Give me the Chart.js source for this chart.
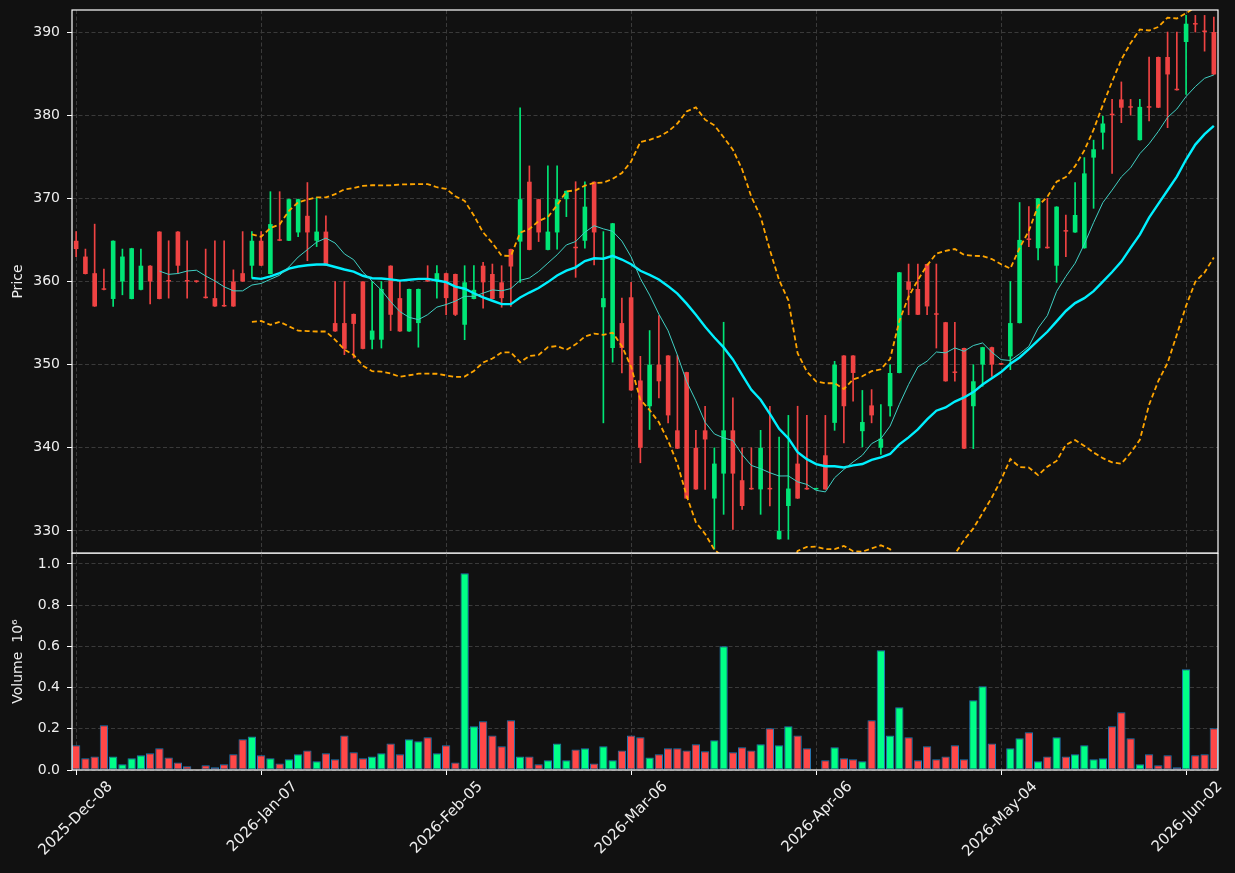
<!DOCTYPE html>
<html>
<head>
<meta charset="utf-8">
<script src="https://cdn.jsdelivr.net/npm/chart.js"></script>
<style>
  html, body { margin: 0; padding: 0; background: #111111; }
  #wrap { position: relative; width: 1235px; height: 873px; overflow: hidden; }
  canvas { position: absolute; left: 0; }
  #priceChart { top: 0; }
  #volChart { top: 553px; }
</style>
</head>
<body>
<div id="wrap">
  <canvas id="priceChart" width="1235" height="554"></canvas>
  <canvas id="volChart" width="1235" height="320"></canvas>
</div>
<script>
// daily candles (124 sessions)
const opens = [364.9,363.0,361.0,359.1,357.9,360.0,357.9,359.0,361.9,366.0,
  360.1,366.0,360.1,360.05,358.1,358.0,357.1,360.0,361.0,361.9,
  364.9,360.9,365.0,364.9,365.9,367.9,364.9,366.0,355.0,355.0,
  356.1,360.0,353.0,353.0,361.9,358.0,354.0,355.0,360.1,360.0,
  361.0,360.9,354.8,357.9,361.9,360.9,359.9,363.9,364.8,372.0,
  369.9,363.8,365.9,369.9,364.1,364.9,372.0,356.9,352.0,355.0,
  358.1,348.1,345.0,350.0,351.1,342.1,349.1,340.0,342.1,333.9,
  336.9,342.1,336.1,335.1,335.0,335.1,329.0,333.0,338.1,335.1,
  335.0,339.1,343.0,351.1,351.1,342.0,345.1,340.0,345.0,349.0,
  360.0,359.1,362.1,356.1,355.1,349.1,352.0,345.0,350.0,352.1,
  350.1,351.0,355.0,365.1,364.0,364.1,361.9,366.1,365.9,364.0,
  374.9,377.9,380.1,381.9,381.0,377.0,381.0,387.0,387.0,383.1,
  388.8,391.0,390.1,390.0];
const highs = [366.0,363.9,366.9,361.5,364.9,363.9,364.0,363.9,361.9,366.0,
  364.9,366.0,364.9,360.1,363.9,364.9,364.9,361.4,366.0,366.0,
  366.0,370.8,370.8,369.9,369.9,371.9,370.1,367.9,360.0,360.0,
  356.1,360.0,360.0,360.0,361.9,360.0,359.1,359.1,361.9,361.9,
  361.0,360.9,361.9,361.9,362.3,362.1,361.9,363.9,380.9,373.9,
  369.9,373.9,373.9,370.9,372.0,372.0,372.0,366.0,367.0,358.0,
  359.9,351.0,354.1,355.9,351.1,351.1,349.1,342.1,345.0,340.0,
  355.1,346.0,340.0,340.0,342.1,345.0,341.3,343.9,345.0,343.9,
  335.0,343.9,350.4,351.1,351.1,346.9,347.0,345.2,350.0,361.1,
  362.1,362.1,362.1,362.1,355.1,355.1,352.0,350.0,352.1,352.1,
  350.1,360.0,369.5,369.0,370.0,370.0,369.0,368.0,371.9,374.9,
  377.0,379.9,381.9,384.0,381.9,381.9,387.0,387.0,390.0,390.0,
  392.0,392.0,392.0,391.8];
const lows = [363.0,360.9,357.0,359.0,357.0,358.4,357.9,359.0,357.3,357.9,
  358.0,361.0,358.0,359.9,358.0,357.0,357.0,357.0,360.0,360.4,
  361.9,360.9,364.9,364.9,365.4,362.5,364.2,361.9,354.0,351.2,
  350.8,351.9,351.9,352.0,354.1,354.0,354.0,352.1,360.0,358.0,
  356.0,355.9,353.0,357.9,356.8,357.9,356.9,357.0,359.9,363.8,
  364.8,363.8,363.9,367.8,360.5,364.0,362.0,343.0,350.3,349.0,
  346.9,338.2,342.2,346.0,343.0,339.9,333.9,335.0,335.0,327.8,
  332.0,330.2,332.6,335.0,332.0,333.0,329.0,329.0,333.9,335.0,
  335.0,335.0,342.1,340.6,345.6,340.1,343.0,339.2,343.8,349.0,
  356.0,356.0,356.0,352.0,348.0,348.0,339.9,339.9,347.4,348.6,
  350.0,349.4,355.0,364.2,362.6,364.0,359.9,363.0,365.9,364.0,
  368.8,375.9,373.0,379.1,380.0,377.0,379.3,380.9,378.5,383.0,
  382.5,390.0,387.7,384.9];
const closes = [363.9,360.9,357.0,359.0,364.9,363.0,364.0,361.9,360.0,357.9,
  360.0,361.9,360.0,359.95,358.0,357.0,357.0,357.0,360.0,364.9,
  361.9,366.9,364.9,369.9,369.9,365.9,366.0,361.9,354.0,351.9,
  354.9,351.9,354.1,359.1,356.0,354.0,359.1,359.1,360.0,361.0,
  358.0,356.0,359.9,359.0,359.9,357.9,358.0,361.8,369.9,363.8,
  365.9,366.0,369.9,370.9,364.0,369.0,365.9,358.0,367.0,352.0,
  346.9,340.0,350.0,348.0,343.9,339.9,333.9,335.0,341.0,338.1,
  342.1,336.9,333.0,335.0,340.0,335.0,330.0,335.1,333.9,335.0,
  335.0,335.0,350.0,345.0,349.0,343.1,343.9,341.1,349.0,361.1,
  359.0,356.0,357.0,356.0,348.0,349.0,339.9,348.0,352.1,350.0,
  350.0,355.0,365.0,365.0,370.0,364.0,369.0,366.0,368.0,373.0,
  375.9,379.0,380.0,380.9,380.9,381.0,380.9,380.9,384.9,383.0,
  391.0,390.9,390.0,384.9];
// volume, millions
const volumes = [0.12,0.057,0.066,0.217,0.066,0.028,0.057,0.071,0.081,0.105,
  0.061,0.037,0.018,0.003,0.023,0.013,0.028,0.076,0.149,0.163,
  0.071,0.057,0.032,0.052,0.076,0.095,0.042,0.081,0.052,0.168,
  0.086,0.057,0.066,0.081,0.129,0.076,0.149,0.139,0.159,0.081,
  0.12,0.037,0.955,0.212,0.236,0.168,0.115,0.241,0.066,0.066,
  0.028,0.047,0.129,0.047,0.1,0.105,0.032,0.115,0.047,0.095,
  0.168,0.159,0.061,0.076,0.105,0.105,0.095,0.125,0.091,0.144,
  0.6,0.086,0.11,0.095,0.125,0.202,0.12,0.212,0.168,0.105,
  0,0.047,0.11,0.057,0.052,0.042,0.241,0.581,0.168,0.304,
  0.159,0.047,0.115,0.052,0.066,0.12,0.052,0.338,0.406,0.129,
  0,0.105,0.154,0.183,0.042,0.066,0.159,0.066,0.076,0.12,
  0.052,0.057,0.212,0.28,0.154,0.028,0.076,0.023,0.071,0.013,
  0.489,0.071,0.076,0.202];

const tickIdx = [0, 20, 40, 60, 80, 100, 120];
const tickLabels = ["2025-Dec-08", "2026-Jan-07", "2026-Feb-05", "2026-Mar-06",
  "2026-Apr-06", "2026-May-04", "2026-Jun-02"];
const priceTicks = [330, 340, 350, 360, 370, 380, 390];
const volTicks = [0, 0.2, 0.4, 0.6, 0.8, 1.0];

const UP = '#00e676', DOWN = '#ef4343';
const VUP = '#00ff88', VDOWN = '#ff4848';
const GRID = '#3a3a3a';
const TXT = '#eeeeee';
const FONT = { family: 'DejaVu Sans', size: 14 };

// indicators derived from the closes
function rollingMean(vals, n) {
  return vals.map((v, i) => {
    if (i < n - 1) return null;
    let s = 0;
    for (let k = i - n + 1; k <= i; k++) s += vals[k];
    return s / n;
  });
}
function rollingStd(vals, n) {
  const m = rollingMean(vals, n);
  return vals.map((v, i) => {
    if (i < n - 1) return null;
    let s = 0;
    for (let k = i - n + 1; k <= i; k++) s += (vals[k] - m[i]) ** 2;
    return Math.sqrt(s / n);
  });
}
const ma10 = rollingMean(closes, 10);
const ma20 = rollingMean(closes, 20);
const sd20 = rollingStd(closes, 20);
const upper = ma20.map((m, i) => m === null ? null : m + 2 * sd20[i]);
const lower = ma20.map((m, i) => m === null ? null : m - 2 * sd20[i]);

const isUp = closes.map((c, i) => c >= opens[i]);
const candleColors = isUp.map(u => u ? UP : DOWN);
const volColors = isUp.map(u => u ? VUP : VDOWN);
const pts = arr => arr.map((v, i) => ({ x: i, y: v }));

const xMin = -0.45, xMax = 123.45;

const frame = {
  id: 'frame',
  afterDraw(chart) {
    const { ctx, chartArea: a } = chart;
    ctx.save();
    ctx.strokeStyle = '#ffffff';
    ctx.lineWidth = 1.2;
    ctx.strokeRect(a.left, a.top, a.right - a.left, a.bottom - a.top);
    ctx.restore();
  }
};

Chart.defaults.font.family = FONT.family;
Chart.defaults.font.size = FONT.size;
Chart.defaults.color = TXT;

const setTicks = list => s => { s.ticks = list.map(v => ({ value: v })); };
// fixed box sizes, and no extra room asked for the end labels
const fixBox = (w, h) => s => {
  if (w !== null) s.width = w;
  if (h !== null) s.height = h;
  s.paddingTop = 0; s.paddingBottom = 0; s.paddingLeft = 0; s.paddingRight = 0;
};

new Chart(document.getElementById('priceChart'), {
  type: 'bar',
  data: {
    datasets: [
      { type: 'line', data: pts(ma10), borderColor: '#40d0c4', borderWidth: 1,
        pointRadius: 0, tension: 0, order: 0 },
      { type: 'line', data: pts(ma20), borderColor: '#00f0ff', borderWidth: 2.4,
        pointRadius: 0, tension: 0, order: 0 },
      { type: 'line', data: pts(upper), borderColor: '#ffa500', borderWidth: 1.8,
        borderDash: [5, 3], pointRadius: 0, tension: 0, order: 0 },
      { type: 'line', data: pts(lower), borderColor: '#ffa500', borderWidth: 1.8,
        borderDash: [5, 3], pointRadius: 0, tension: 0, order: 0 },
      { data: closes.map((c, i) => ({ x: i, y: [opens[i], c] })),
        backgroundColor: candleColors, barPercentage: 0.5, categoryPercentage: 1,
        grouped: false, minBarLength: 1.5, order: 1 },
      { data: closes.map((c, i) => ({ x: i, y: [lows[i], highs[i]] })),
        backgroundColor: candleColors, barThickness: 1,
        grouped: false, order: 2 }
    ]
  },
  options: {
    responsive: false,
    animation: false,
    events: [],
    layout: { autoPadding: false, padding: { top: 10, right: 17, bottom: 1, left: 0 } },
    plugins: { legend: { display: false }, tooltip: { enabled: false } },
    scales: {
      x: {
        type: 'linear', min: xMin, max: xMax, offset: false,
        grid: { offset: false, color: GRID, drawTicks: false },
        border: { display: false, dash: [4, 2.5] },
        ticks: { display: false },
        afterBuildTicks: setTicks(tickIdx),
        afterFit: fixBox(null, 0)
      },
      y: {
        type: 'linear', position: 'left', min: 327.35, max: 392.65,
        grid: { color: GRID, tickColor: '#ffffff', tickLength: 5 },
        border: { display: false, dash: [4, 2.5] },
        ticks: { color: TXT, padding: 7 },
        afterBuildTicks: setTicks(priceTicks),
        afterFit: fixBox(72, null),
        title: { display: true, text: 'Price', color: TXT, padding: { top: 10, bottom: 0 } }
      }
    }
  },
  plugins: [frame]
});

new Chart(document.getElementById('volChart'), {
  type: 'bar',
  data: {
    datasets: [{
      data: pts(volumes),
      backgroundColor: volColors, borderColor: '#1f77b4', borderWidth: 1,
      borderSkipped: false, barPercentage: 0.9, categoryPercentage: 1, grouped: false
    }]
  },
  options: {
    responsive: false,
    animation: false,
    events: [],
    layout: { autoPadding: false, padding: { top: 0, right: 17, bottom: 0, left: 0 } },
    plugins: { legend: { display: false }, tooltip: { enabled: false } },
    scales: {
      x: {
        type: 'linear', min: xMin, max: xMax, offset: false,
        grid: { offset: false, color: GRID, tickColor: '#ffffff', tickLength: 5 },
        border: { display: false, dash: [4, 2.5] },
        ticks: { color: TXT, autoSkip: false, minRotation: 45, maxRotation: 45,
          font: { size: 15 }, labelOffset: 34, padding: 3,
          callback: (v, i) => tickLabels[i] },
        afterBuildTicks: setTicks(tickIdx),
        afterFit: fixBox(null, 103)
      },
      y: {
        type: 'linear', position: 'left', min: 0, max: 1.053,
        grid: { color: GRID, tickColor: '#ffffff', tickLength: 5 },
        border: { display: false, dash: [4, 2.5] },
        ticks: { color: TXT, padding: 7, callback: v => v.toFixed(1) },
        afterBuildTicks: setTicks(volTicks),
        afterFit: fixBox(72, null),
        title: { display: true, text: 'Volume  10\u2076', color: TXT, padding: { top: 10, bottom: 0 } }
      }
    }
  },
  plugins: [frame]
});
</script>
</body>
</html>
